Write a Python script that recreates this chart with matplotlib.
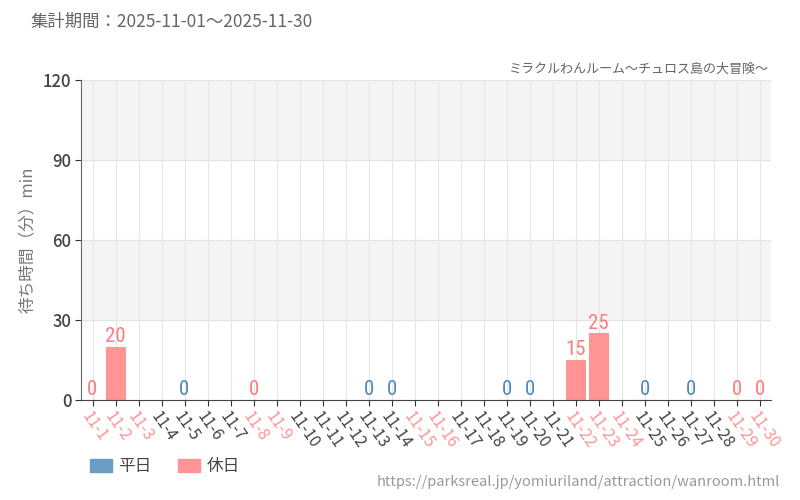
import matplotlib.pyplot as plt
import numpy as np
from matplotlib.patches import Patch

plt.rcParams['font.family'] = ['Noto Sans CJK JP', 'DejaVu Sans']

# November 2025 data
days = [f"11-{d}" for d in range(1, 31)]
holidays = [1, 2, 3, 8, 9, 15, 16, 22, 23, 24, 29, 30]
# waiting time (minutes); None = no data
waits = [0, 20, None, None, 0, None, None, 0, None, None,
         None, None, 0, 0, None, None, None, None, 0, 0,
         None, 15, 25, None, 0, None, 0, None, 0, 0]

title = "集計期間：2025-11-01～2025-11-30"
subtitle = "ミラクルわんルーム～チュロス島の大冒険～"
source = "https://parksreal.jp/yomiuriland/attraction/wanroom.html"
ylabel = "待ち時間（分）min"
yticks = [0, 30, 60, 90, 120]

blue = '#6a9cc4'
pink = '#ff9494'
blue_txt = '#4f88b9'
pink_txt = '#ff7c7c'

fig = plt.figure(figsize=(8, 5), dpi=100)
ax = fig.add_axes([81 / 800, 100 / 500, 690 / 800, 320 / 500])

x = np.arange(len(days))
is_hol = [(i + 1) in holidays for i in range(len(days))]

# background bands
for lo, hi in [(30, 60), (90, 120)]:
    ax.axhspan(lo, hi, color='#f5f5f5', zorder=0)
for yv in yticks[1:]:
    ax.axhline(yv, color='#e3e3e3', lw=0.8, zorder=1)
for xi in x:
    ax.axvline(xi, color='#e6e6e6', lw=0.8, zorder=1)

label_font = ['Roboto Condensed', 'Oswald', 'Barlow Condensed', 'DejaVu Sans']
for xi, v, h in zip(x, waits, is_hol):
    if v is None:
        continue
    c = pink if h else blue
    ax.bar(xi, v, width=0.82, color=c, edgecolor=c, linewidth=0.8, zorder=2)
    ax.text(xi, v + 0.3, str(v), ha='center', va='bottom', fontsize=15,
            color=pink_txt if h else blue_txt, family=label_font,
            fontweight='normal', zorder=3)

ax.set_xlim(-0.5, len(days) - 0.5)
ax.set_ylim(0, 120)
ax.set_yticks(yticks)
ax.set_yticklabels([str(t) for t in yticks], fontsize=12, color='#444444',
                   fontweight='medium', family=['Noto Sans CJK JP', 'DejaVu Sans'])
ax.set_xticks(x)
ax.set_xticklabels(days, rotation=-55, ha='left', va='top', fontsize=11.5,
                   rotation_mode='anchor')
for lbl, h in zip(ax.get_xticklabels(), is_hol):
    lbl.set_color(pink if h else '#444444')

for s in ['top', 'right']:
    ax.spines[s].set_visible(False)
ax.spines['left'].set_color('#666666')
ax.spines['bottom'].set_color('#444444')
ax.tick_params(axis='x', length=4, color='#333333', pad=2)
ax.tick_params(axis='y', length=4, color='#333333', pad=3)

ax.set_ylabel(ylabel, fontsize=12, color='#777777', labelpad=5)

fig.text(30 / 800, 1 - 22 / 500, title, fontsize=12.5, color='#666666',
         ha='left', va='center')
fig.text(769 / 800, 1 - 69 / 500, subtitle, fontsize=9.4, color='#666666',
         ha='right', va='center')
fig.text(780 / 800, 1 - 482 / 500, source, fontsize=10.5, color='#999999',
         ha='right', va='center')

# legend
handles = [Patch(color=blue, label='平日'), Patch(color=pink, label='休日')]
fig.legend(handles=handles, loc='center left',
           bbox_to_anchor=(90 / 800, 1 - 467 / 500), ncol=2, frameon=False,
           fontsize=12, handlelength=1.3, handleheight=0.8,
           handletextpad=0.4, columnspacing=1.6, labelcolor='#444444',
           borderaxespad=0, borderpad=0)

fig.savefig('out.png', dpi=100)
